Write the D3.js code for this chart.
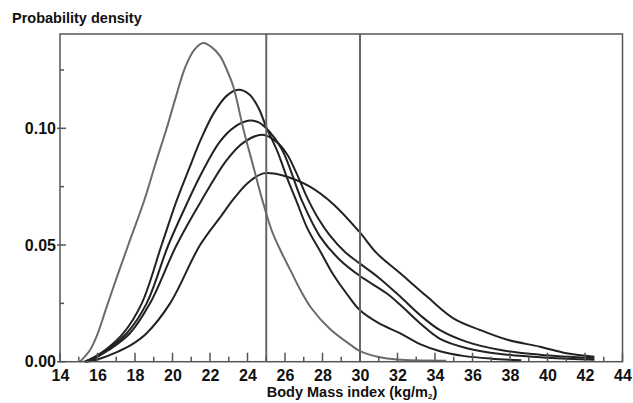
<!DOCTYPE html>
<html>
<head>
<meta charset="utf-8">
<script src="https://cdn.jsdelivr.net/npm/d3@7"></script>
<style>
  html, body { margin: 0; padding: 0; background: #fff; }
  svg { display: block; font-family: "Liberation Sans", Arial, Helvetica, sans-serif; }
</style>
</head>
<body>
<svg id="chart" width="633" height="403"></svg>
<script>
// ---- data ----
const xTicksMajor = [14, 16, 18, 20, 22, 24, 26, 28, 30, 32, 34, 36, 38, 40, 42, 44];
const xTicksMinor = [15, 17, 19, 21, 23, 25, 27, 29, 31, 33, 35, 37, 39, 41, 43];
const yTicksMajor = [0, 0.05, 0.10];
const yTicksMinor = [0.025, 0.075, 0.125];
const cutoffs = [25, 30];

// grey curve (tallest, leftmost)
const bmiA = [15.07, 15.6, 15.96, 16.49, 17.0, 17.64, 18.5, 19.1, 19.69, 20.2, 20.67, 21.15, 21.63, 22.05, 22.53, 22.9, 23.24, 23.8, 24.3, 24.8, 25.3, 25.8, 26.3, 26.8, 27.4, 28.4, 29.5, 30.0, 31.0, 32.0, 34.6];
const denA = [0, 0.005, 0.011, 0.0235, 0.0355, 0.05, 0.0693, 0.085, 0.100, 0.114, 0.126, 0.1335, 0.1365, 0.135, 0.131, 0.125, 0.118, 0.099, 0.084, 0.069, 0.056, 0.047, 0.039, 0.031, 0.023, 0.014, 0.0072, 0.0045, 0.002, 0.0009, 0.0004];

const bmiB = [15.3, 15.8, 16.5, 17.38, 18.36, 19.42, 20.22, 20.9, 21.5, 22.2, 22.9, 23.5, 24.1, 24.6, 25.0, 25.6, 26.1, 26.6, 27.2, 27.9, 28.6, 29.3, 30.0, 31.0, 32.13, 33.2, 34.27, 35.5, 37.0, 38.6];
const denB = [0, 0.0018, 0.0055, 0.0122, 0.025, 0.05, 0.069, 0.083, 0.095, 0.1065, 0.114, 0.1165, 0.1145, 0.1085, 0.1005, 0.090, 0.079, 0.069, 0.057, 0.047, 0.037, 0.029, 0.022, 0.0165, 0.0122, 0.0075, 0.0045, 0.0025, 0.0013, 0.0006];

const bmiC = [15.35, 15.8, 16.5, 17.56, 18.62, 19.78, 20.84, 21.5, 22.5, 23.3, 24.1, 24.6, 25.0, 25.85, 26.9, 27.87, 28.93, 30.0, 31.42, 32.13, 33.2, 34.27, 35.7, 37.5, 40.0, 42.5];
const denC = [0, 0.0016, 0.005, 0.0122, 0.025, 0.05, 0.069, 0.080, 0.094, 0.1005, 0.1033, 0.1025, 0.100, 0.0907, 0.069, 0.0536, 0.0436, 0.0367, 0.0293, 0.0245, 0.0165, 0.0098, 0.0058, 0.0033, 0.0017, 0.0008];

const bmiD = [15.4, 15.9, 16.6, 17.73, 18.8, 20.22, 21.56, 22.89, 23.8, 24.8, 25.5, 26.1, 26.6, 27.2, 27.8, 28.4, 29.2, 30.0, 31.0, 32.13, 33.2, 34.27, 35.7, 37.5, 39.6, 42.5];
const denD = [0, 0.0017, 0.005, 0.0122, 0.025, 0.05, 0.0693, 0.0864, 0.094, 0.0972, 0.0945, 0.089, 0.081, 0.070, 0.061, 0.054, 0.047, 0.042, 0.036, 0.028, 0.020, 0.0135, 0.0085, 0.005, 0.003, 0.0015];

const bmiE = [15.45, 16.2, 17.0, 17.8, 18.62, 19.87, 21.47, 22.6, 23.24, 24.0, 24.84, 25.5, 26.27, 27.33, 28.58, 29.96, 30.89, 32.13, 33.56, 34.98, 36.4, 37.82, 39.6, 41.02, 42.5];
const denE = [0, 0.0015, 0.004, 0.0072, 0.0122, 0.025, 0.050, 0.0625, 0.0695, 0.0765, 0.0807, 0.0805, 0.0788, 0.075, 0.0675, 0.0557, 0.0465, 0.038, 0.028, 0.0186, 0.0136, 0.0095, 0.0064, 0.0036, 0.0021];

const seriesList = [
  { bmi: bmiB, den: denB, color: "#222" },
  { bmi: bmiC, den: denC, color: "#222" },
  { bmi: bmiD, den: denD, color: "#222" },
  { bmi: bmiE, den: denE, color: "#222" },
  { bmi: bmiA, den: denA, color: "#6b6b6b" }
];

// ---- layout ----
const svg = d3.select("#chart");
const mLeft = 60, mTop = 34, mRight = 622.5, mBottom = 361.7;
const x = d3.scaleLinear().domain([14, 44]).range([mLeft, mRight]);
const y = d3.scaleLinear().domain([0, 0.1404]).range([mBottom, mTop]);

// curves
const line = d3.line().x(d => x(d[0])).y(d => y(d[1])).curve(d3.curveCatmullRom.alpha(0.5));
seriesList.forEach(s => {
  const pts = s.bmi.map((b, i) => [b, s.den[i]]);
  svg.append("path")
    .attr("d", line(pts))
    .attr("fill", "none")
    .attr("stroke", s.color)
    .attr("stroke-width", 2)
    .attr("stroke-linejoin", "round");
});

// cutoff lines
svg.selectAll("line.cut").data(cutoffs).enter().append("line")
  .attr("class", "cut")
  .attr("x1", d => x(d)).attr("x2", d => x(d))
  .attr("y1", mTop).attr("y2", mBottom)
  .attr("stroke", "#666").attr("stroke-width", 2);

// frame
svg.append("rect")
  .attr("x", mLeft).attr("y", mTop)
  .attr("width", mRight - mLeft).attr("height", mBottom - mTop)
  .attr("fill", "none").attr("stroke", "#555").attr("stroke-width", 1.5);

// x axis
const xAxis = d3.axisBottom(x).tickValues(xTicksMajor).tickSize(0).tickPadding(8).tickFormat(d3.format("d"));
const gx = svg.append("g").attr("transform", `translate(0,${mBottom})`).call(xAxis);
gx.select(".domain").remove();
gx.selectAll("text").attr("font-size", 16).attr("font-weight", "bold").attr("fill", "#111")
  .attr("font-family", "'Liberation Sans', Arial, sans-serif").attr("dy", "0.72em");
svg.append("g").selectAll("line").data(xTicksMajor).enter().append("line")
  .attr("x1", d => x(d)).attr("x2", d => x(d))
  .attr("y1", mBottom).attr("y2", mBottom - 9)
  .attr("stroke", "#555").attr("stroke-width", 1.5);
svg.append("g").selectAll("line").data(xTicksMinor).enter().append("line")
  .attr("x1", d => x(d)).attr("x2", d => x(d))
  .attr("y1", mBottom).attr("y2", mBottom - 5)
  .attr("stroke", "#555").attr("stroke-width", 1.5);

// y axis
const yAxis = d3.axisLeft(y).tickValues(yTicksMajor).tickSize(0).tickPadding(4).tickFormat(d3.format(".2f"));
const gy = svg.append("g").attr("transform", `translate(${mLeft},0)`).call(yAxis);
gy.select(".domain").remove();
gy.selectAll("text").attr("font-size", 16).attr("font-weight", "bold").attr("fill", "#111")
  .attr("font-family", "'Liberation Sans', Arial, sans-serif");
svg.append("g").selectAll("line").data(yTicksMajor).enter().append("line")
  .attr("x1", mLeft - 3).attr("x2", mLeft + 6)
  .attr("y1", d => y(d)).attr("y2", d => y(d))
  .attr("stroke", "#555").attr("stroke-width", 1.5);
svg.append("g").selectAll("line").data(yTicksMinor).enter().append("line")
  .attr("x1", mLeft).attr("x2", mLeft + 4)
  .attr("y1", d => y(d)).attr("y2", d => y(d))
  .attr("stroke", "#555").attr("stroke-width", 1.5);

// titles
svg.append("text")
  .attr("x", 12).attr("y", 23)
  .attr("font-size", 14.5).attr("font-weight", "bold").attr("fill", "#111")
  .text("Probability density");

const xt = svg.append("text")
  .attr("x", 352).attr("y", 397)
  .attr("text-anchor", "middle")
  .attr("font-size", 14.5).attr("font-weight", "bold").attr("fill", "#111");
xt.append("tspan").text("Body Mass index (kg/m");
xt.append("tspan").attr("font-size", 8).attr("dy", 2).text("2");
xt.append("tspan").attr("dy", -2).text(")");
</script>
</body>
</html>
